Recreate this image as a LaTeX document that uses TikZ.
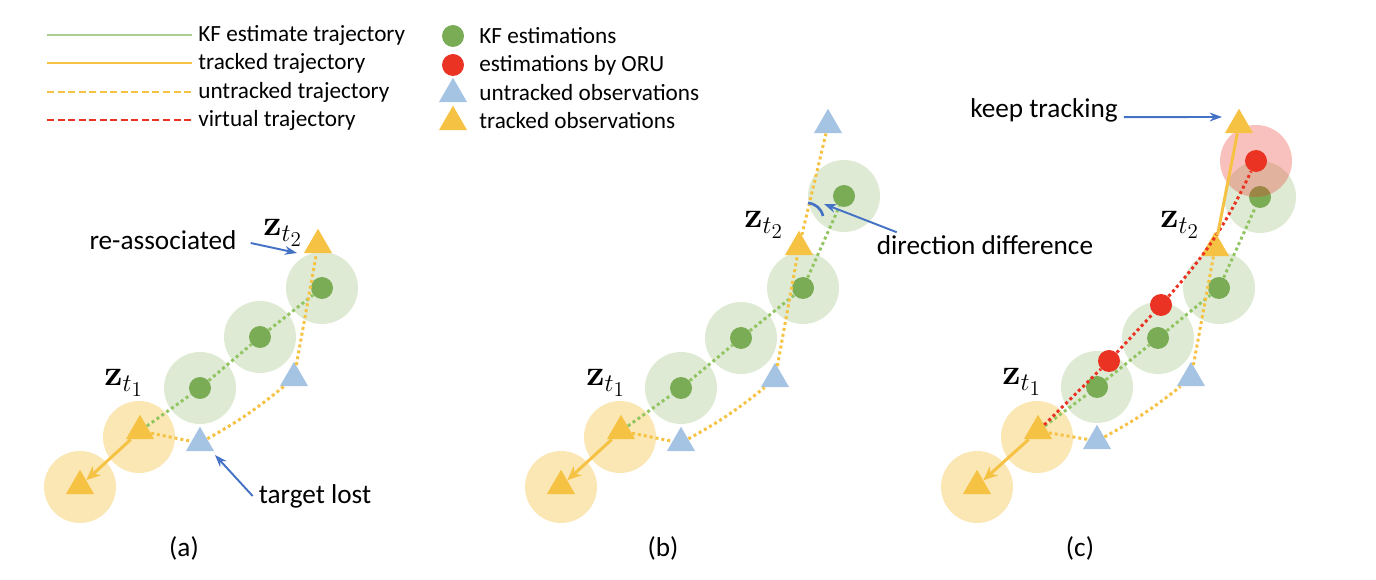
\documentclass[tikz,border=0pt]{standalone}
\usepackage[no-math]{fontspec}
\setmainfont{Carlito}
\usepackage{tikz}
\usetikzlibrary{positioning, shapes.geometric, arrows.meta}

\definecolor{kfGreen}{RGB}{122,171,85}
\definecolor{kfLine}{RGB}{146,196,98}
\definecolor{kfLegend}{RGB}{169,208,142}
\definecolor{trkYellow}{RGB}{246,194,67}
\definecolor{untrkBlue}{RGB}{165,195,227}
\definecolor{oruRed}{RGB}{234,51,35}
\definecolor{arrowBlue}{RGB}{68,114,196}

\begin{document}
\begin{tikzpicture}[
    x=0.02cm, y=-0.02cm,
    every node/.style={font=\fontsize{15.5}{18}\selectfont},
    halo/.style={circle, minimum size=1.44cm, inner sep=0pt},
    ghalo/.style={halo, fill=kfGreen!25},
    yhalo/.style={halo, fill=trkYellow!40},
    rhalo/.style={halo, fill=oruRed, fill opacity=0.3},
    kfdot/.style={circle, fill=kfGreen, minimum size=0.44cm, inner sep=0pt},
    orudot/.style={circle, fill=oruRed, minimum size=0.44cm, inner sep=0pt},
    obs/.style={regular polygon, regular polygon sides=3, minimum size=0.65cm, inner sep=0pt},
    trk/.style={obs, fill=trkYellow},
    untrk/.style={obs, fill=untrkBlue},
    dotline/.style={line width=1.7pt, dash pattern=on 1.7pt off 1.7pt},
    kfpath/.style={dotline, kfLine},
    untrkpath/.style={dotline, trkYellow},
    virtpath/.style={dotline, oruRed},
    trkpath/.style={line width=1.7pt, trkYellow},
    pointer/.style={arrowBlue, line width=1.1pt, -{Stealth[length=7pt, width=5pt]}},
    legtext/.style={font=\fontsize{13.2}{15}\selectfont, anchor=west, inner sep=0pt},
    zlabel/.style={font=\huge}
]
\useasboundingbox (0,0) rectangle (1376,580);

% Legende
\node[legtext] (lg-kfline) at (198,35) {KF estimate trajectory};
\node[legtext] (lg-trkline) at (198,63) {tracked trajectory};
\node[legtext] (lg-untrkline) at (198,92) {untracked trajectory};
\node[legtext] (lg-virtline) at (198,120) {virtual trajectory};
\draw[kfLegend, line width=1.5pt] ([xshift=-3.02cm]lg-kfline.west) -- ([xshift=-0.12cm]lg-kfline.west);
\draw[trkYellow, line width=1.5pt] ([xshift=-3.02cm]lg-trkline.west) -- ([xshift=-0.12cm]lg-trkline.west);
\draw[trkYellow, line width=1.5pt, dash pattern=on 4pt off 2pt] ([xshift=-3.02cm]lg-untrkline.west) -- ([xshift=-0.12cm]lg-untrkline.west);
\draw[oruRed, line width=1.5pt, dash pattern=on 4pt off 2pt] ([xshift=-3.02cm]lg-virtline.west) -- ([xshift=-0.12cm]lg-virtline.west);

\node[kfdot] (lg-kfdot) at (453,36) {};
\node[orudot] (lg-orudot) at (453,65) {};
\node[untrk] (lg-untrk) at (453,94) {};
\node[trk] (lg-trk) at (453,122) {};
\node[legtext] (lg-kfest) at (479,36) {KF estimations};
\node[legtext] (lg-oruest) at (479,65) {estimations by ORU};
\node[legtext] (lg-untrkobs) at (479,93) {untracked observations};
\node[legtext] (lg-trkobs) at (479,121) {tracked observations};

% (a)
\node[yhalo] (a-h0) at (80,487) {};
\node[yhalo] (a-h1) at (139,437) {};
\node[ghalo] (a-hg1) at (200,388) {};
\node[ghalo] (a-hg2) at (260,337) {};
\node[ghalo] (a-hg3) at (322,288) {};
\node[kfdot] (a-g1) at (200,388) {};
\node[kfdot] (a-g2) at (260,337) {};
\node[kfdot] (a-g3) at (322,288) {};
\node[trk] (a-t0) at (80,486) {};
\node[trk] (a-t1) at (140,431) {};
\node[trk] (a-t2) at (318,245) {};
\node[untrk] (a-u1) at (200,443) {};
\node[untrk] (a-u2) at (294,378) {};

\draw[kfpath] (a-t1) -- (a-g1);
\draw[kfpath] (a-g1) -- (a-g2);
\draw[kfpath] (a-g2) -- (a-g3);
\draw[untrkpath] (a-t1) -- (a-u1);
\draw[untrkpath] (a-u1) to[bend right=5] (a-u2);
\draw[untrkpath] (a-u2) -- (a-t2);
\draw[trkpath, -{Stealth[length=8pt, width=7pt]}] (a-t1) -- (a-t0);

\node[zlabel] (a-z1) at (124,383) {$\mathbf{z}_{t_1}$};
\node[zlabel] (a-z2) at (283,233) {$\mathbf{z}_{t_2}$};
\node (a-rea) at (163,240) {re-associated};
\coordinate (a-reatip) at (297,253);
\draw[pointer] ([shift={(8,3)}]a-rea.east) -- (a-reatip);
\node (a-lost) at (315,496) {target lost};
\coordinate (a-losttip) at (215,455);
\draw[pointer] (a-lost.west) -- (a-losttip);
\node (a-cap) at (184,548) {(a)};

% (b)
\node[yhalo] (b-h0) at (561,487) {};
\node[yhalo] (b-h1) at (620,437) {};
\node[ghalo] (b-hg1) at (681,388) {};
\node[ghalo] (b-hg2) at (741,338) {};
\node[ghalo] (b-hg3) at (803,288) {};
\node[ghalo] (b-hg4) at (844,196) {};
\node[kfdot] (b-g1) at (681,388) {};
\node[kfdot] (b-g2) at (741,338) {};
\node[kfdot] (b-g3) at (803,288) {};
\node[kfdot] (b-g4) at (844,196) {};
\node[trk] (b-t0) at (561,486) {};
\node[trk] (b-t1) at (621,431) {};
\node[trk] (b-t2) at (799,247) {};
\node[untrk] (b-u1) at (681,443) {};
\node[untrk] (b-u2) at (775,379) {};
\node[untrk] (b-u3) at (828,125) {};

\draw[kfpath] (b-t1) -- (b-g1);
\draw[kfpath] (b-g1) -- (b-g2);
\draw[kfpath] (b-g2) -- (b-g3);
\draw[kfpath] (b-g3) -- (b-g4);
\draw[untrkpath] (b-t1) -- (b-u1);
\draw[untrkpath] (b-u1) to[bend right=5] (b-u2);
\draw[untrkpath] (b-u2) -- (b-t2);
\draw[untrkpath] (b-t2) -- (b-u3);
\draw[trkpath, -{Stealth[length=8pt, width=7pt]}] (b-t1) -- (b-t0);

\coordinate (b-arcstart) at (808,203);
\coordinate (b-arcend) at (823,216);
\draw[arrowBlue, line width=1.5pt] (b-arcstart) to[bend left=35] (b-arcend);
\node[zlabel] (b-z1) at (606,383) {$\mathbf{z}_{t_1}$};
\node[zlabel] (b-z2) at (764,225) {$\mathbf{z}_{t_2}$};
\node (b-dir) at (985,245) {direction difference};
\coordinate (b-dirtip) at (824,204);
\draw[pointer] ([shift={(26,3)}]b-dir.north west) -- (b-dirtip);
\node (b-cap) at (663,548) {(b)};

% (c)
\node[yhalo] (c-h0) at (977,487) {};
\node[yhalo] (c-h1) at (1037,437) {};
\node[ghalo] (c-hg1) at (1097,387) {};
\node[ghalo] (c-hg2) at (1158,338) {};
\node[ghalo] (c-hg3) at (1219,288) {};
\node[ghalo] (c-hg4) at (1260,197) {};
\node[kfdot] (c-g1) at (1097,387) {};
\node[kfdot] (c-g2) at (1158,338) {};
\node[kfdot] (c-g3) at (1219,288) {};
\node[kfdot] (c-g4) at (1260,197) {};
\node[trk] (c-t0) at (977,486) {};
\node[trk] (c-t1) at (1038,431) {};
\node[trk] (c-t2) at (1215,248) {};
\node[untrk] (c-u1) at (1097,441) {};
\node[untrk] (c-u2) at (1191,378) {};

\draw[kfpath] (c-t1) -- (c-g1);
\draw[kfpath] (c-g1) -- (c-g2);
\draw[kfpath] (c-g2) -- (c-g3);
\draw[kfpath] (c-g3) -- (c-g4);
\draw[untrkpath] (c-t1) -- (c-u1);
\draw[untrkpath] (c-u1) to[bend right=5] (c-u2);
\draw[untrkpath] (c-u2) -- (c-t2);
\draw[trkpath, -{Stealth[length=8pt, width=7pt]}] (c-t1) -- (c-t0);

\node[rhalo] (c-hr3) at (1256,161) {};
\node[orudot] (c-r1) at (1109,361) {};
\node[orudot] (c-r2) at (1161,305) {};
\node[orudot] (c-r3) at (1256,161) {};
\node[trk] (c-t3) at (1239,125) {};
\draw[virtpath] (c-t1) -- (c-r1);
\draw[virtpath] (c-r1) -- (c-r2);
\draw[virtpath] (c-r2) to[bend right=8] (c-r3);
\draw[trkpath] (c-t2) -- (c-t3);

\node[zlabel] (c-z1) at (1022,382) {$\mathbf{z}_{t_1}$};
\node[zlabel] (c-z2) at (1180,225) {$\mathbf{z}_{t_2}$};
\node (c-keep) at (1044,110) {keep tracking};
\coordinate (c-keeptip) at (1222,117);
\draw[pointer] (c-keep.base east) -- (c-keeptip);
\node (c-cap) at (1080,548) {(c)};

\end{tikzpicture}
\end{document}
